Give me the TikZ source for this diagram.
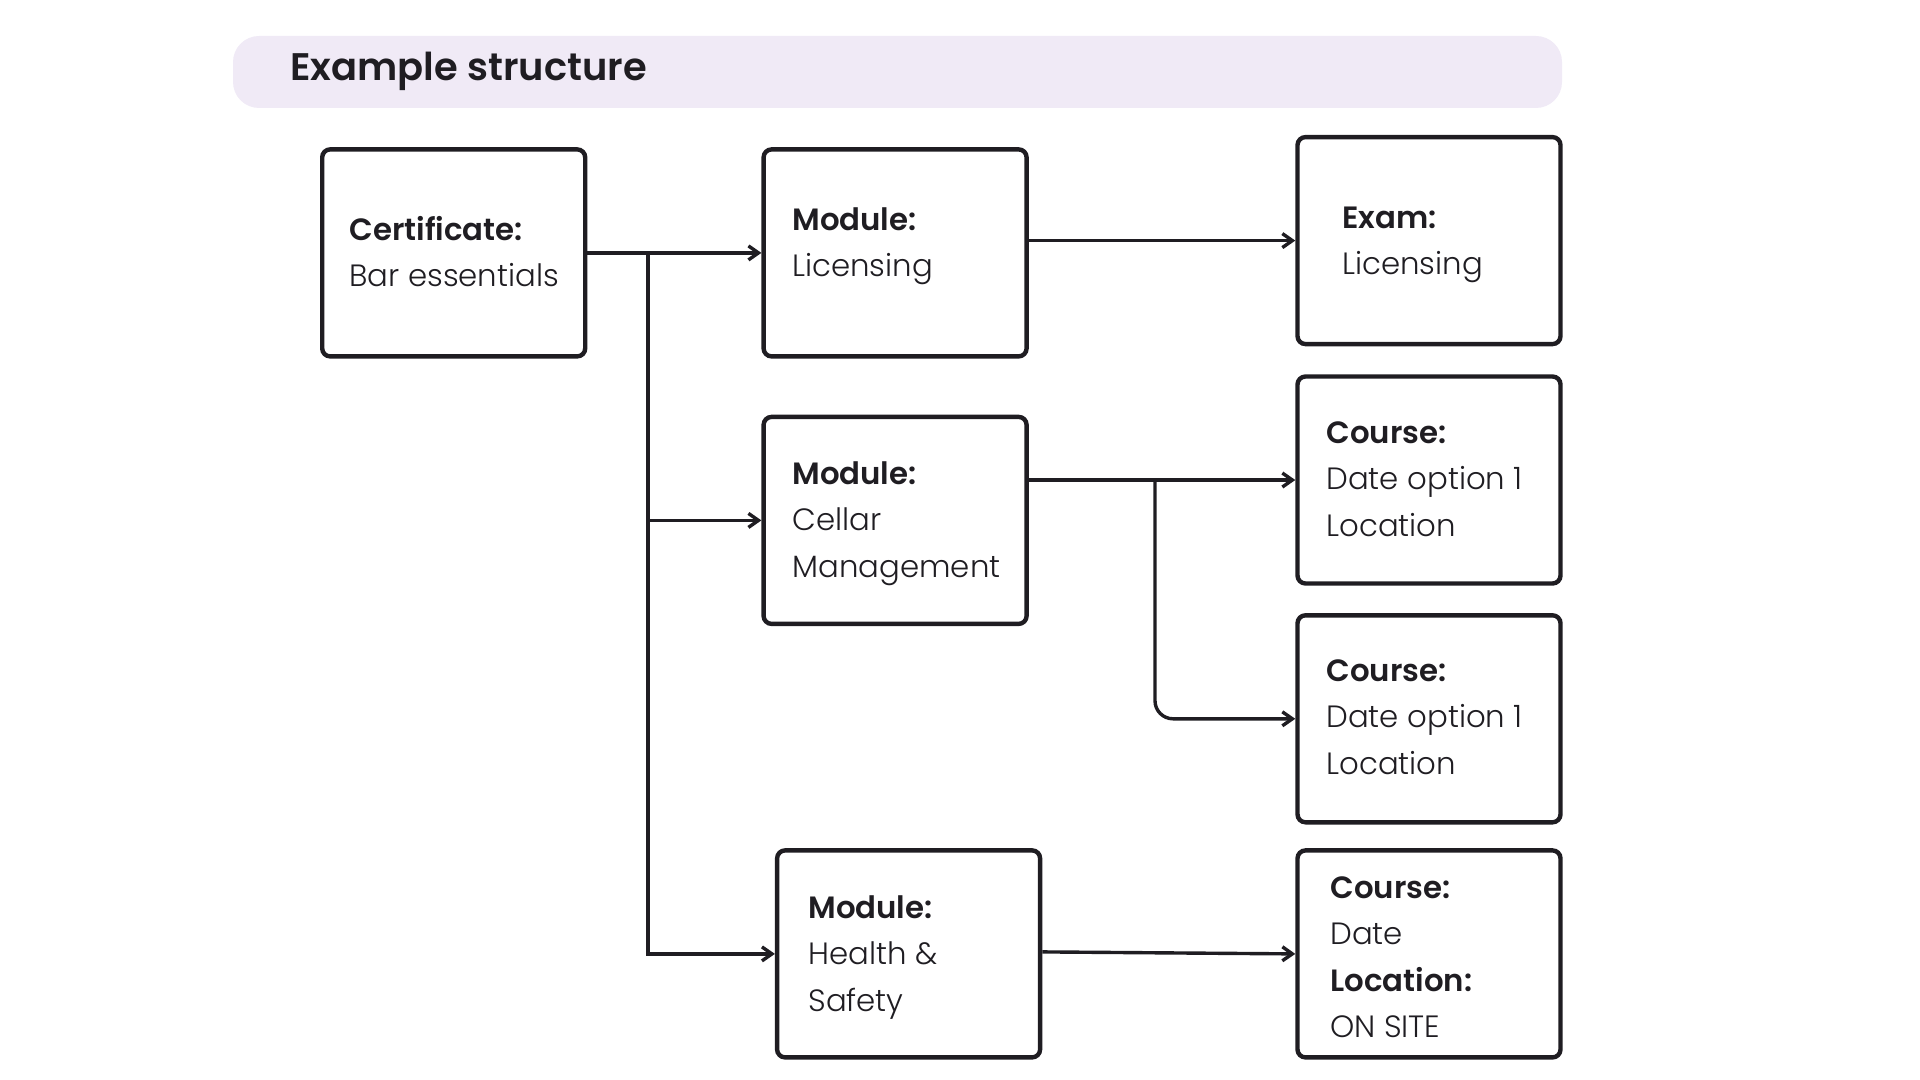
\documentclass[tikz,border=0pt]{standalone}
\usepackage{fontspec}
\setmainfont{Poppins}[UprightFont=* Light, BoldFont=* SemiBold]
\usetikzlibrary{arrows.meta}
\definecolor{ink}{HTML}{1F1D22}
\definecolor{barfill}{HTML}{F0EAF6}
\newcommand\lstr{\rule[-7.25pt]{0pt}{23.25pt}}
\begin{document}
\begin{tikzpicture}[x=0.5pt,y=-0.5pt,
  box/.style={draw=ink, line width=2.2pt, rounded corners=4pt, minimum width=131.5pt, minimum height=103.5pt, inner sep=0pt},
  txt/.style={anchor=north west, align=left, inner sep=0pt, font=\fontsize{15.4pt}{23.25pt}\selectfont, text=ink},
  link/.style={draw=ink, line width=1.7pt, -{Straight Barb[length=5pt,width=7pt]}},
]
\useasboundingbox (0,0) rectangle (1920,1080);
% title bar
\node[fill=barfill, rounded corners=13pt, minimum width=664.5pt, minimum height=36pt, inner sep=0pt] (bar) at (897.5,72) {};
\node[anchor=base west, font=\fontsize{19.2pt}{24pt}\selectfont\bfseries, text=ink, inner sep=0pt] (title) at (290,81) {Example structure};

% boxes
\node[box] (cert)   at (453.7,252.9) {};
\node[box] (modLic) at (895.1,252.9) {};
\node[box] (exam)   at (1429,240.6) {};
\node[box] (cellar) at (895.1,520.4) {};
\node[box] (c1)     at (1429,480) {};
\node[box] (c2)     at (1429,718.8) {};
\node[box] (health) at (908.6,953.9) {};
\node[box] (c3)     at (1429,953.9) {};

% texts
\node[txt] (certT)   at (349,208) {\lstr\textbf{Certificate:}\\\lstr Bar essentials};
\node[txt] (modLicT) at (792,198) {\lstr\textbf{Module:}\\\lstr Licensing};
\node[txt] (examT)   at (1342,196) {\lstr\textbf{Exam:}\\\lstr Licensing};
\node[txt] (cellarT) at (792,452) {\lstr\textbf{Module:}\\\lstr Cellar\\\lstr Management};
\node[txt] (c1T)     at (1326,411) {\lstr\textbf{Course:}\\\lstr Date option 1\\\lstr Location};
\node[txt] (c2T)     at (1326,649) {\lstr\textbf{Course:}\\\lstr Date option 1\\\lstr Location};
\node[txt] (healthT) at (808,886) {\lstr\textbf{Module:}\\\lstr Health \&\\\lstr Safety};
\node[txt] (c3T)     at (1330,866) {\lstr\textbf{Course:}\\\lstr Date\\\lstr\textbf{Location:}\\\lstr ON SITE};

% connectors
\draw[link] (cert) -- (modLic);
\draw[link] (modLic.east |- exam.west) -- (exam.west);
\coordinate (tr) at (648,252.9);
\draw[link] (tr) |- (cellar.west);
\draw[link] (tr) |- (health.west);
\draw[link] (cellar.east |- c1.west) -- (c1.west);
\coordinate (br) at (1155,480);
\draw[link, rounded corners=9pt] (br) |- (c2.west);
\draw[link] ([yshift=1pt]health.east) -- (c3.west);
\end{tikzpicture}
\end{document}
